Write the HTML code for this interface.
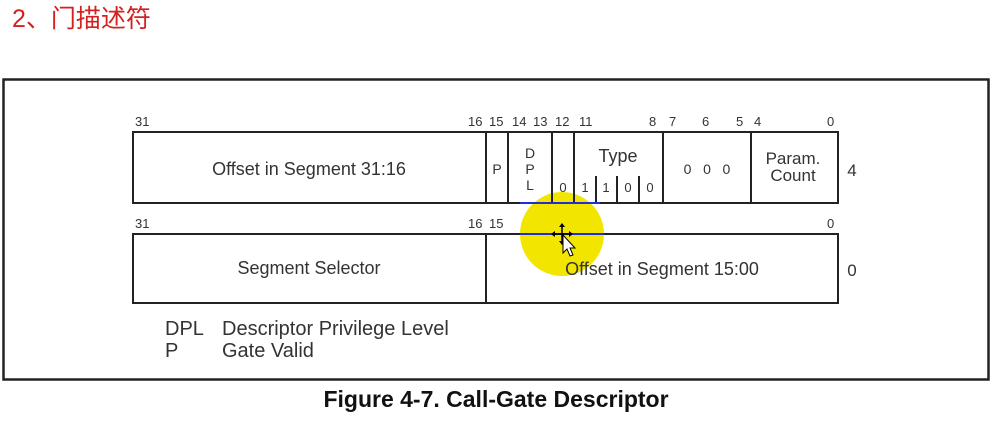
<!DOCTYPE html>
<html><head><meta charset="utf-8"><style>
body{margin:0;background:#fff;width:1000px;height:417px;overflow:hidden}
svg text{font-family:"Liberation Sans",Arial,sans-serif;fill:#333}
</style></head><body>
<svg width="1000" height="417" viewBox="0 0 1000 417" xmlns="http://www.w3.org/2000/svg">
<text x="12" y="27" font-size="25" style="font-family:'Liberation Sans','Noto Sans CJK SC',sans-serif;fill:#d42020">2、门描述符</text>
<rect x="3.5" y="79.5" width="985" height="300" fill="#fff" stroke="#222" stroke-width="2.5"/>
<circle cx="562" cy="234" r="42" fill="#f2e600"/>
<g stroke="#222" stroke-width="2" fill="none">
<rect x="133" y="132" width="705" height="71"/>
<line x1="486" y1="132" x2="486" y2="203"/>
<line x1="508" y1="132" x2="508" y2="203"/>
<line x1="552" y1="132" x2="552" y2="203"/>
<line x1="574" y1="132" x2="574" y2="203"/>
<line x1="663" y1="132" x2="663" y2="203"/>
<line x1="751" y1="132" x2="751" y2="203"/>
<line x1="596" y1="176" x2="596" y2="203"/>
<line x1="617" y1="176" x2="617" y2="203"/>
<line x1="639" y1="176" x2="639" y2="203"/>
<rect x="133" y="234" width="705" height="69"/>
<line x1="486" y1="234" x2="486" y2="303"/>
</g>
<line x1="520" y1="203" x2="600" y2="203" stroke="#2030d0" stroke-width="2"/>
<line x1="520" y1="234" x2="604" y2="234" stroke="#2030d0" stroke-width="2"/>
<g font-size="13">
<text x="135" y="126">31</text>
<text x="468" y="126">16</text><text x="489" y="126">15</text>
<text x="512" y="126">14</text><text x="533" y="126">13</text>
<text x="555" y="126">12</text><text x="579" y="126">11</text>
<text x="649" y="126">8</text><text x="669" y="126">7</text>
<text x="702" y="126">6</text><text x="736" y="126">5</text>
<text x="754" y="126">4</text><text x="827" y="126">0</text>
<text x="135" y="228">31</text>
<text x="468" y="228">16</text><text x="489" y="228">15</text>
<text x="827" y="228">0</text>
</g>
<g font-size="18" text-anchor="middle">
<text x="309" y="175">Offset in Segment 31:16</text>
<text x="497" y="174" font-size="14">P</text>
<text x="530" y="158" font-size="14">D</text>
<text x="530" y="174" font-size="14">P</text>
<text x="530" y="190" font-size="14">L</text>
<text x="563" y="192" font-size="13">0</text>
<text x="618" y="162">Type</text>
<text x="585" y="192" font-size="13">1</text>
<text x="606" y="192" font-size="13">1</text>
<text x="628" y="192" font-size="13">0</text>
<text x="650" y="192" font-size="13">0</text>
<text x="707" y="174" font-size="14">0&#160;&#160;&#160;0&#160;&#160;&#160;0</text>
<text x="793" y="164" font-size="17">Param.</text>
<text x="793" y="181" font-size="17">Count</text>
<text x="852" y="176" font-size="17">4</text>
<text x="309" y="274">Segment Selector</text>
<text x="662" y="275">Offset in Segment 15:00</text>
<text x="852" y="276" font-size="17">0</text>
</g>
<g font-size="20">
<text x="165" y="335">DPL</text><text x="222" y="335">Descriptor Privilege Level</text>
<text x="165" y="357">P</text><text x="222" y="357">Gate Valid</text>
</g>
<text x="496" y="407" font-size="23" font-weight="bold" text-anchor="middle" style="fill:#111">Figure 4-7.  Call-Gate Descriptor</text>
<g transform="translate(562,234)">
<path d="M0,-9 L0,9 M-9,0 L9,0" stroke="#000" stroke-width="1.5"/>
<path d="M0,-11 l-3,4 h6z M0,11 l-3,-4 h6z M-11,0 l4,-3 v6z M11,0 l-4,-3 v6z" fill="#000"/>
<path d="M1,1 L1,19 L5,15 L8,22 L11,21 L8,14 L13,14 Z" fill="#fff" stroke="#000" stroke-width="1"/>
</g>
</svg>
</body></html>
